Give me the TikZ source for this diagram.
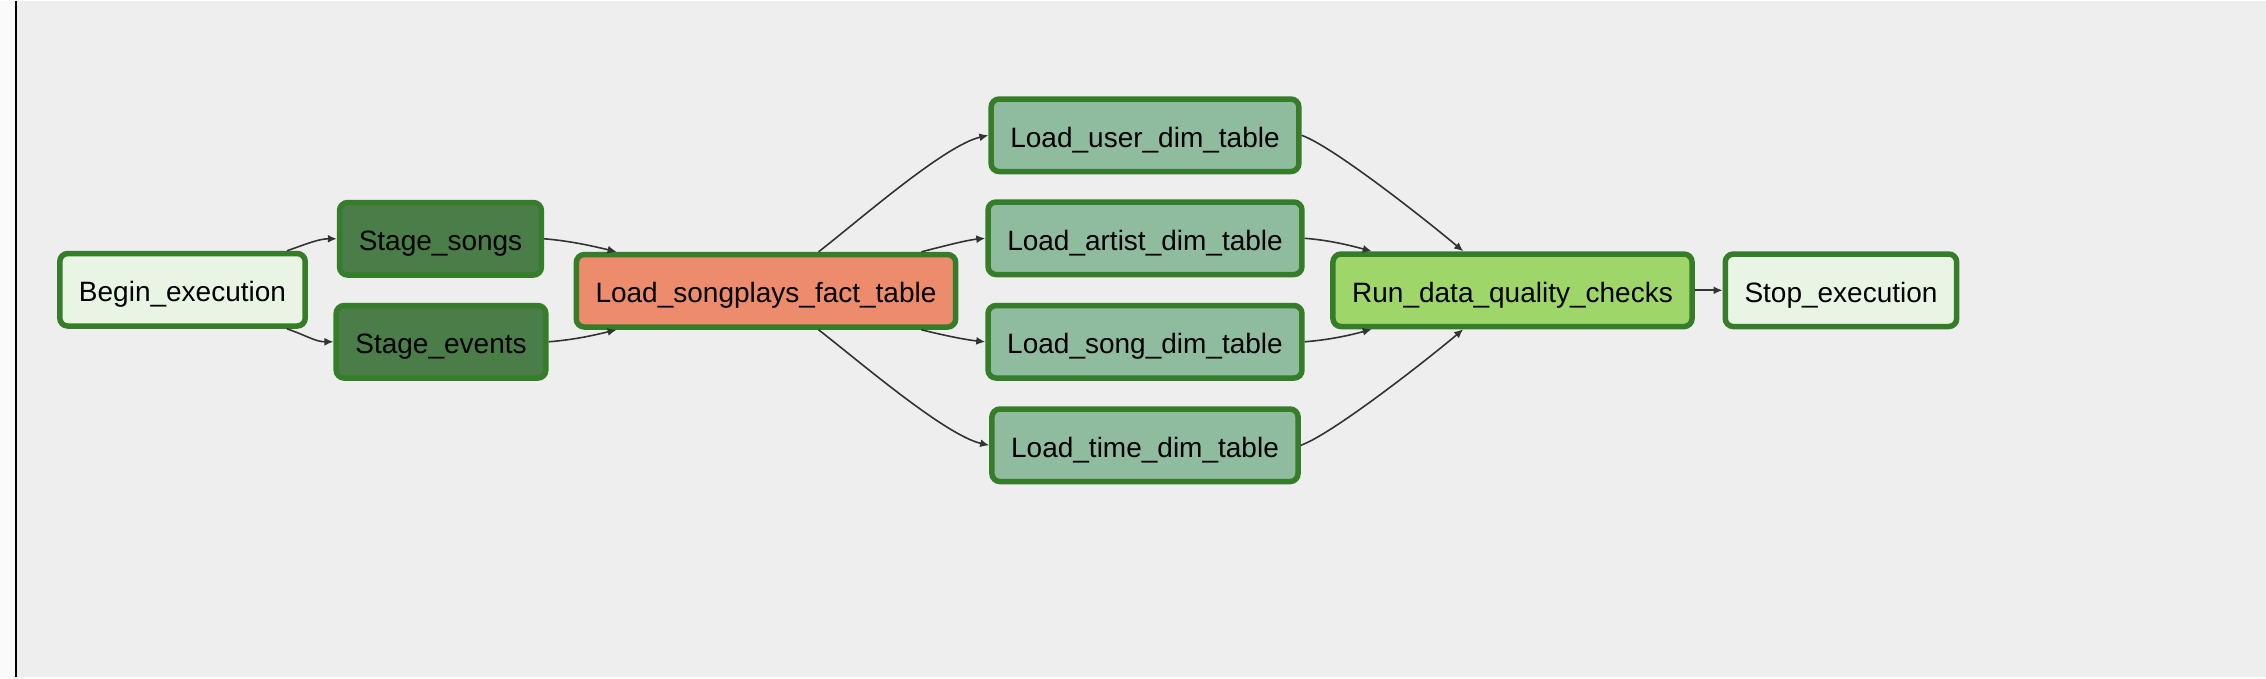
\documentclass[tikz,border=0pt]{standalone}
\usepackage{fontspec}
\setmainfont{Liberation Sans}
\usetikzlibrary{calc,arrows.meta}
\definecolor{bgcol}{HTML}{EEEEEE}
\definecolor{stripcol}{HTML}{FAFAFA}
\definecolor{bordercol}{HTML}{367D2A}
\definecolor{edgecol}{HTML}{333333}
\definecolor{dummycol}{HTML}{E9F5E4}
\definecolor{stagecol}{HTML}{4A7D48}
\definecolor{factcol}{HTML}{EC8C6C}
\definecolor{dimcol}{HTML}{8FBC9E}
\definecolor{checkcol}{HTML}{9ED66A}
\begin{document}
\begin{tikzpicture}[x=0.5pt,y=0.5pt,
  task/.style={draw=bordercol, line width=2.75pt, rounded corners=4pt,
    minimum height=36.25pt, inner xsep=9.6pt, inner ysep=0pt,
    text height=14pt, text depth=1.8pt,
    font=\fontsize{14}{16}\selectfont, text=black},
  edge/.style={draw=edgecol, line width=0.8pt, -{Latex[length=4.5pt,width=4pt]}}]
\fill[bgcol] (0,0) rectangle (2266,676);
\fill[stripcol] (0,0) rectangle (15,676);
\draw[black, line width=1.3pt] (16,0) -- (16,676);
\useasboundingbox (0,0) rectangle (2266,676);

\node[task, fill=dummycol] (begin) at (182.5,387.5) {Begin\_execution};
\node[task, fill=stagecol] (ssongs) at (440.5,438.5) {Stage\_songs};
\node[task, fill=stagecol] (sevents) at (441,335.5) {Stage\_events};
\node[task, fill=factcol] (fact) at (766,386.5) {Load\_songplays\_fact\_table};
\node[task, fill=dimcol] (user) at (1145,542) {Load\_user\_dim\_table};
\node[task, fill=dimcol] (artist) at (1145,439) {Load\_artist\_dim\_table};
\node[task, fill=dimcol] (song) at (1145,335.5) {Load\_song\_dim\_table};
\node[task, fill=dimcol] (time) at (1145,232) {Load\_time\_dim\_table};
\node[task, fill=checkcol] (run) at (1512.5,387) {Run\_data\_quality\_checks};
\node[task, fill=dummycol] (stop) at (1841,387) {Stop\_execution};

\draw[edge] ($(begin.north east)+(-21,0)$) .. controls +(20,7) and +(-18,0) .. (ssongs.west);
\draw[edge] ($(begin.south east)+(-21,0)$) .. controls +(20,-7) and +(-18,0) .. (sevents.west);
\draw[edge] (ssongs.east) .. controls +(25,-2) and +(-25,6) .. ($(fact.north west)+(43,0)$);
\draw[edge] (sevents.east) .. controls +(25,2) and +(-25,-6) .. ($(fact.south west)+(43,0)$);
\draw[edge] ($(fact.north west)+(245,0)$) .. controls +(40,31) and +(-44,-10) .. (user.west);
\draw[edge] ($(fact.north east)+(-37,0)$) .. controls +(20,5) and +(-20,-2) .. (artist.west);
\draw[edge] ($(fact.south east)+(-37,0)$) .. controls +(20,-5) and +(-20,2) .. (song.west);
\draw[edge] ($(fact.south west)+(245,0)$) .. controls +(40,-31) and +(-44,10) .. (time.west);
\draw[edge] (user.east) .. controls +(31,-11) and +(-38,32) .. ($(run.north west)+(133,0)$);
\draw[edge] (artist.east) .. controls +(25,-2) and +(-22,6) .. ($(run.north west)+(41.5,0)$);
\draw[edge] (song.east) .. controls +(25,2) and +(-22,-6) .. ($(run.south west)+(41.5,0)$);
\draw[edge] (time.east) .. controls +(31,11) and +(-38,-32) .. ($(run.south west)+(133,0)$);
\draw[edge] (run.east) -- (stop.west);
\end{tikzpicture}
\end{document}
